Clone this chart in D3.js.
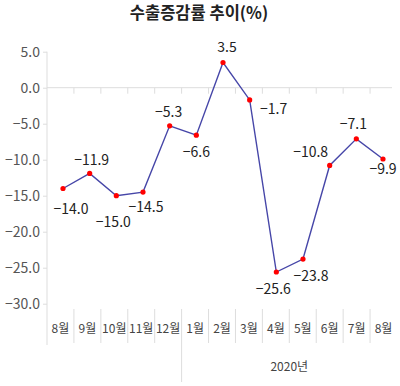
<html>
<head>
<meta charset="utf-8">
<script src="https://d3js.org/d3.v7.min.js"></script>
<style>
  body { margin: 0; background: #fff; }
  text { font-family: "Noto Sans CJK KR", "Noto Sans", sans-serif; }
</style>
</head>
<body>
<svg id="chart" width="400" height="386"></svg>
<script>
// chart data
const months = ["8월", "9월", "10월", "11월", "12월", "1월", "2월", "3월", "4월", "5월", "6월", "7월", "8월"];
const rates = [-14.0, -11.9, -15.0, -14.5, -5.3, -6.6, 3.5, -1.7, -25.6, -23.8, -10.8, -7.1, -9.9];
const yTicks = [5, 0, -5, -10, -15, -20, -25, -30];
const yearLabel = "2020년";
const yearStart = 5; // index of 1월

// where each value label sits around its point [dx, dy]
const labelOffsets = [[8, 21], [2, -13], [-3, 26], [3, 15], [-1, -14], [0, 17], [4, -15],
                      [24, 9], [-3, 17], [8, 17], [-19, -13], [-3, -15], [0, 10]];

const svg = d3.select("#chart");
const idx = d3.range(months.length);

const x = d3.scaleBand().domain(idx).range([47, 397]);
const xp = d3.scalePoint().domain(idx).range([63, 383]);
const y = d3.scaleLinear().domain([-30, 5]).range([303.7, 51.7]);

// title
svg.append("text")
    .attr("x", 199).attr("y", 13)
    .attr("dy", "0.35em")
    .attr("text-anchor", "middle")
    .attr("font-size", 16.5).attr("font-weight", "bold")
    .attr("fill", "#222")
    .text("수출증감률 추이(%)");

// y axis
const yAxis = svg.append("g")
    .attr("transform", "translate(47,0)")
    .call(d3.axisLeft(y).tickValues(yTicks).tickSize(4).tickFormat(d3.format(".1f")));
yAxis.select(".domain").remove();
yAxis.selectAll(".tick line").attr("stroke", "#ddd");
yAxis.selectAll(".tick text")
    .attr("x", -7)
    .attr("font-size", 14).attr("fill", "#555")
    .style("font-family", "'Noto Sans CJK KR', sans-serif");

svg.append("line")
    .attr("x1", 47).attr("x2", 47)
    .attr("y1", y(5)).attr("y2", 345)
    .attr("stroke", "#ddd");

// zero line with band ticks
svg.append("line")
    .attr("x1", 47).attr("x2", 392)
    .attr("y1", y(0)).attr("y2", y(0))
    .attr("stroke", "#ddd");
svg.append("g").selectAll("line")
    .data(idx.slice(1))
    .join("line")
    .attr("x1", d => x(d)).attr("x2", d => x(d))
    .attr("y1", y(0)).attr("y2", y(0) + 6)
    .attr("stroke", "#ddd");

// category dividers and labels
svg.append("g").selectAll("line")
    .data(idx.slice(1))
    .join("line")
    .attr("x1", d => x(d)).attr("x2", d => x(d))
    .attr("y1", 309)
    .attr("y2", d => d === yearStart ? 382 : 343)
    .attr("stroke", "#ddd");

svg.append("g").selectAll("text")
    .data(idx)
    .join("text")
    .attr("x", d => x(d) + x.bandwidth() / 2)
    .attr("y", 329)
    .attr("dy", "0.35em")
    .attr("text-anchor", "middle")
    .attr("font-size", 12).attr("fill", "#444")
    .text(d => months[d]);

svg.append("text")
    .attr("x", (x(yearStart) + x.range()[1]) / 2)
    .attr("y", 367)
    .attr("dy", "0.35em")
    .attr("text-anchor", "middle")
    .attr("font-size", 12).attr("fill", "#444")
    .text(yearLabel);

// line + points
const line = d3.line().x((d, i) => xp(i)).y(d => y(d));
svg.append("path")
    .datum(rates)
    .attr("d", line)
    .attr("fill", "none")
    .attr("stroke", "#4646a8")
    .attr("stroke-width", 1.4);

svg.append("g").selectAll("circle")
    .data(rates)
    .join("circle")
    .attr("cx", (d, i) => xp(i))
    .attr("cy", d => y(d))
    .attr("r", 2.6)
    .attr("fill", "#f00");

// value labels
const fmt = d3.format(".1f");
svg.append("g").selectAll("text")
    .data(rates)
    .join("text")
    .attr("x", (d, i) => xp(i) + labelOffsets[i][0])
    .attr("y", (d, i) => y(d) + labelOffsets[i][1])
    .attr("dy", "0.35em")
    .attr("text-anchor", "middle")
    .attr("font-size", 14).attr("fill", "#222")
    .text(d => fmt(d));
</script>
</body>
</html>
